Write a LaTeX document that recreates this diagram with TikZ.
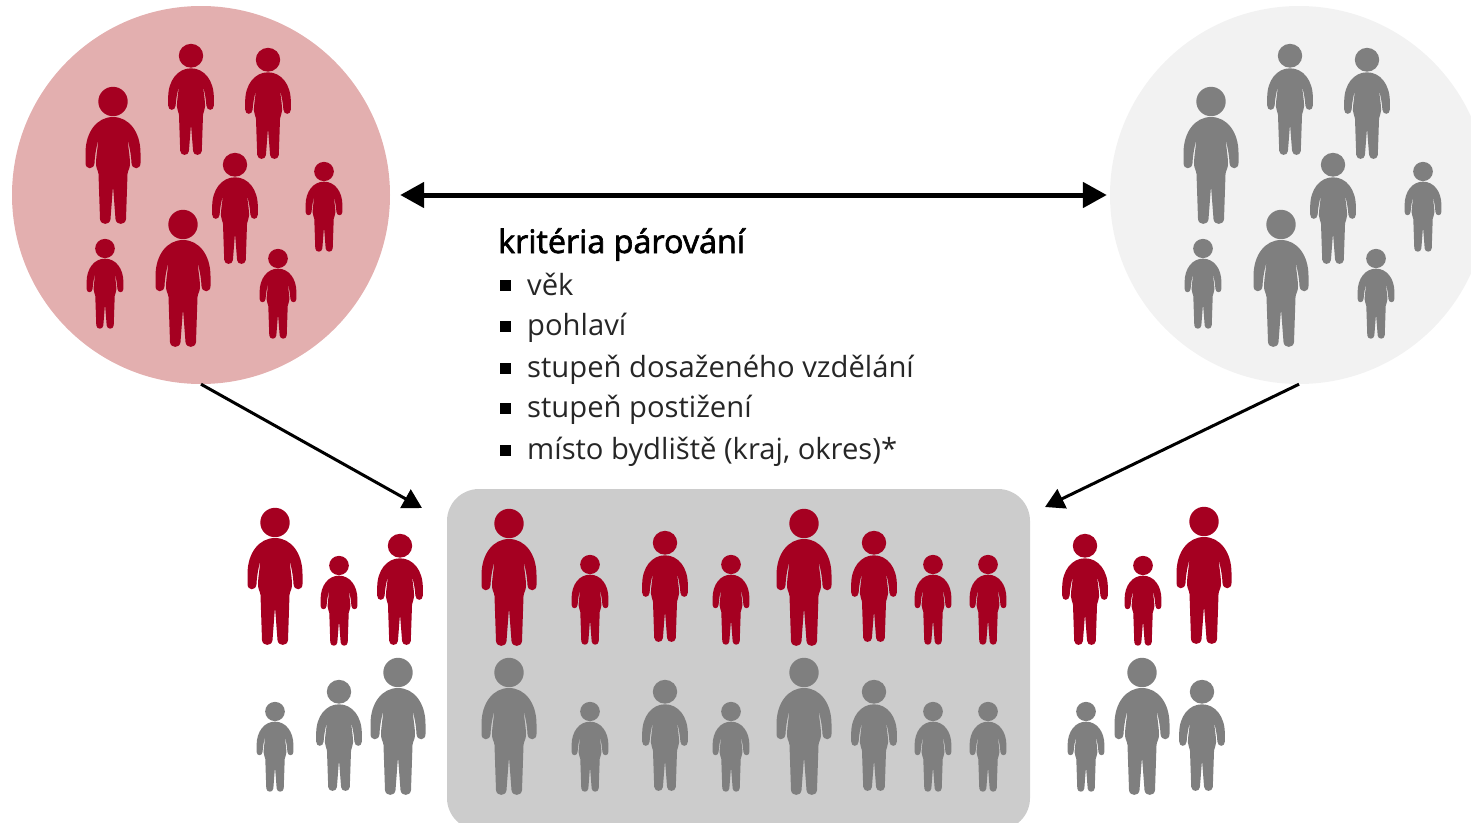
\documentclass[tikz,border=0pt]{standalone}
\usepackage{fontspec}
\setmainfont{Open Sans}
\usetikzlibrary{arrows.meta}
\definecolor{wine}{HTML}{A50021}
\definecolor{pinkpool}{HTML}{E3AFAF}
\definecolor{greypool}{HTML}{F2F2F2}
\definecolor{greyfig}{HTML}{7F7F7F}
\definecolor{greybox}{HTML}{CCCCCC}
\tikzset{
  figure/.pic={
    \path[pic actions] (0,14.5) circle (14.7);
    \path[pic actions] (0,30)
      .. controls (16,30) and (27.5,45) .. (27.5,66)
      -- (27.5,76) .. controls (27.5,83) and (19,83) .. (18.5,76)
      .. controls (18,66) and (16,58) .. (14.5,52)
      .. controls (15.5,62) and (17,70) .. (17,77)
      .. controls (17,81) and (15,83) .. (14.5,87)
      -- (13,132) .. controls (12.5,138.5) and (3,138.5) .. (2.5,132)
      -- (0,99) -- (-2.5,132)
      .. controls (-3,138.5) and (-12.5,138.5) .. (-13,132)
      -- (-14.5,87) .. controls (-15,83) and (-17,81) .. (-17,77)
      .. controls (-17,70) and (-15.5,62) .. (-14.5,52)
      .. controls (-16,58) and (-18,66) .. (-18.5,76)
      .. controls (-19,83) and (-27.5,83) .. (-27.5,76)
      -- (-27.5,66) .. controls (-27.5,45) and (-16,30) .. (0,30) -- cycle;
  }
}
\begin{document}
\begin{tikzpicture}[
  x=1pt, y=-1pt,
  pool/.style={circle, minimum size=378pt, inner sep=0pt},
  matchbox/.style={fill=greybox, rounded corners=32pt},
  bigred/.style={fill=wine},
  medred/.style={fill=wine, xscale=0.83, yscale=0.81},
  smallred/.style={fill=wine, xscale=0.67, yscale=0.655},
  biggrey/.style={fill=greyfig},
  medgrey/.style={fill=greyfig, xscale=0.83, yscale=0.81},
  smallgrey/.style={fill=greyfig, xscale=0.67, yscale=0.655},
  heading/.style={anchor=base west, inner sep=0pt, font=\fontsize{32.3}{35}\selectfont\addfontfeature{FakeBold=2}},
  item/.style={anchor=base west, inner sep=0pt, text=black!85, font=\fontsize{29.2}{32}\selectfont},
  bullet/.style={rectangle, fill=black, minimum size=11pt, inner sep=0pt},
  bothways/.style={line width=5pt, {Triangle[length=24pt, width=25pt]}-{Triangle[length=24pt, width=25pt]}},
  oneway/.style={line width=3pt, -{Triangle[length=19pt, width=21pt]}}
]
\useasboundingbox (0,0) rectangle (1471,822);
\clip (0,0) rectangle (1471,822);

% --- pools ---
\node[pool, fill=pinkpool] (leftpool) at (201,195) {};
\node[pool, fill=greypool] (rightpool) at (1299,195) {};

% --- matched group background ---
\path[matchbox] (447,489) rectangle (1030,830);

% --- red pool ---
\pic[bigred] at (113,87) {figure};
\pic[medred] at (191,44) {figure};
\pic[medred] at (268,48) {figure};
\pic[medred] at (235,153) {figure};
\pic[smallred] at (324,162) {figure};
\pic[smallred] at (105,239) {figure};
\pic[bigred] at (183,210) {figure};
\pic[smallred] at (278,249) {figure};

% --- grey pool ---
\pic[biggrey] at (1211,87) {figure};
\pic[medgrey] at (1290,44) {figure};
\pic[medgrey] at (1367,48) {figure};
\pic[medgrey] at (1333,153) {figure};
\pic[smallgrey] at (1423,162) {figure};
\pic[smallgrey] at (1203,239) {figure};
\pic[biggrey] at (1281,210) {figure};
\pic[smallgrey] at (1376,249) {figure};

% --- bottom left group ---
\pic[bigred] at (275,508) {figure};
\pic[smallred] at (339,556) {figure};
\pic[medred] at (400,534) {figure};
\pic[smallgrey] at (275,702) {figure};
\pic[medgrey] at (339,680) {figure};
\pic[biggrey] at (398,658) {figure};

% --- matched red ---
\pic[bigred] at (509,509) {figure};
\pic[smallred] at (590,555) {figure};
\pic[medred] at (665,531) {figure};
\pic[smallred] at (731,555) {figure};
\pic[bigred] at (804,509) {figure};
\pic[medred] at (874,531) {figure};
\pic[smallred] at (933,555) {figure};
\pic[smallred] at (988,555) {figure};

% --- matched grey ---
\pic[biggrey] at (509,658) {figure};
\pic[smallgrey] at (590,702) {figure};
\pic[medgrey] at (665,680) {figure};
\pic[smallgrey] at (731,702) {figure};
\pic[biggrey] at (804,658) {figure};
\pic[medgrey] at (874,680) {figure};
\pic[smallgrey] at (933,702) {figure};
\pic[smallgrey] at (988,702) {figure};

% --- bottom right group ---
\pic[medred] at (1085,534) {figure};
\pic[smallred] at (1143,556) {figure};
\pic[bigred] at (1204,507) {figure};
\pic[smallgrey] at (1086,702) {figure};
\pic[biggrey] at (1142,658) {figure};
\pic[medgrey] at (1202,680) {figure};

% --- criteria ---
\node[heading] (title) at (498,253) {kritéria párování};
\node[bullet] (b1) at (505.5,285) {};
\node[bullet] (b2) at (505.5,326) {};
\node[bullet] (b3) at (505.5,368) {};
\node[bullet] (b4) at (505.5,408) {};
\node[bullet] (b5) at (505.5,450) {};
\node[item] (i1) at (527,295.5) {věk};
\node[item] (i2) at (527,335.5) {pohlaví};
\node[item] (i3) at (527,377.5) {stupeň dosaženého vzdělání};
\node[item] (i4) at (527,417.5) {stupeň postižení};
\node[item] (i5) at (527,459.5) {místo bydliště (kraj, okres)*};

% --- arrows ---
\coordinate (leftin) at (422,508);
\coordinate (rightin) at (1045,507);
\draw[bothways, shorten <=10pt, shorten >=3pt] (leftpool.east) -- (rightpool.west);
\draw[oneway] (leftpool.south) -- (leftin);
\draw[oneway] (rightpool.south) -- (rightin);

\end{tikzpicture}
\end{document}
